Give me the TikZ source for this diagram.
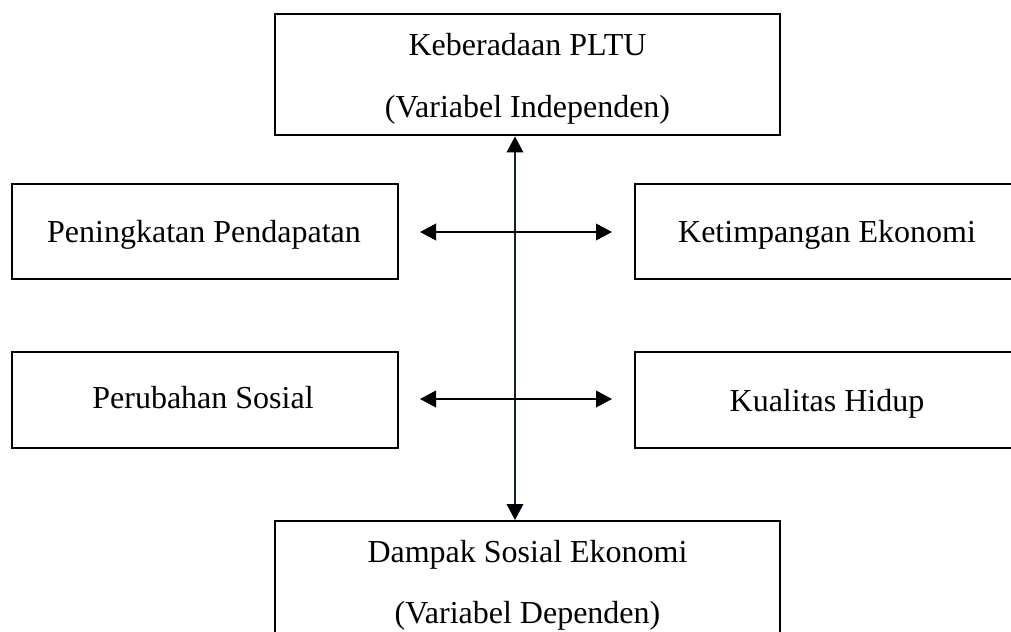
\documentclass[tikz,border=0pt]{standalone}
\usepackage{fontspec}
\setmainfont{Liberation Serif}
\usetikzlibrary{arrows.meta,fit}
\begin{document}
\begin{tikzpicture}[x=0.75pt,y=-0.75pt,
  box/.style={draw=black,line width=1.5pt,inner sep=0pt},
  boxthick/.style={draw=black,line width=2.2pt,inner sep=0pt},
  lbl/.style={anchor=base,inner sep=0pt,font=\fontsize{24}{29}\selectfont},
  conn/.style={line width=1.1pt,{Triangle[length=12pt,width=12.5pt,color=black,fill=black]}-{Triangle[length=12pt,width=12.5pt,color=black,fill=black]}},
  vconn/.style={conn,draw={rgb,255:red,20;green,30;blue,60}}]
\useasboundingbox (0,0) rectangle (1011,632);
\clip (0,0) rectangle (1011,632);
% boxes
\node[boxthick,fit={(275,14) (780,135)}] (top) {};
\node[box,fit={(12,184) (398,279)}] (pen) {};
\node[box,fit={(635,184) (1019,279)}] (ket) {};
\node[box,fit={(12,352) (398,448)}] (per) {};
\node[box,fit={(635,352) (1019,448)}] (kua) {};
\node[box,fit={(275,521) (780,662)}] (bot) {};
% labels
\node[lbl] (t1) at (527.5,55) {Keberadaan PLTU};
\node[lbl] (t2) at (527.5,117) {(Variabel Independen)};
\node[lbl] (t3) at (204,242) {Peningkatan Pendapatan};
\node[lbl] (t4) at (827,242) {Ketimpangan Ekonomi};
\node[lbl] (t5) at (203,408) {Perubahan Sosial};
\node[lbl] (t6) at (827,411) {Kualitas Hidup};
\node[lbl] (t7) at (527.5,562) {Dampak Sosial Ekonomi};
\node[lbl] (t8) at (527.5,623) {(Variabel Dependen)};
% connectors
\coordinate (vt) at (top.south -| 515,0);
\coordinate (vb) at (bot.north -| 515,0);
\coordinate (h1l) at (420,232);
\coordinate (h1r) at (612,232);
\coordinate (h2l) at (420,399);
\coordinate (h2r) at (612,399);
\draw[vconn] (vt) -- (vb);
\draw[conn] (h1l) -- (h1r);
\draw[conn] (h2l) -- (h2r);
\end{tikzpicture}
\end{document}
